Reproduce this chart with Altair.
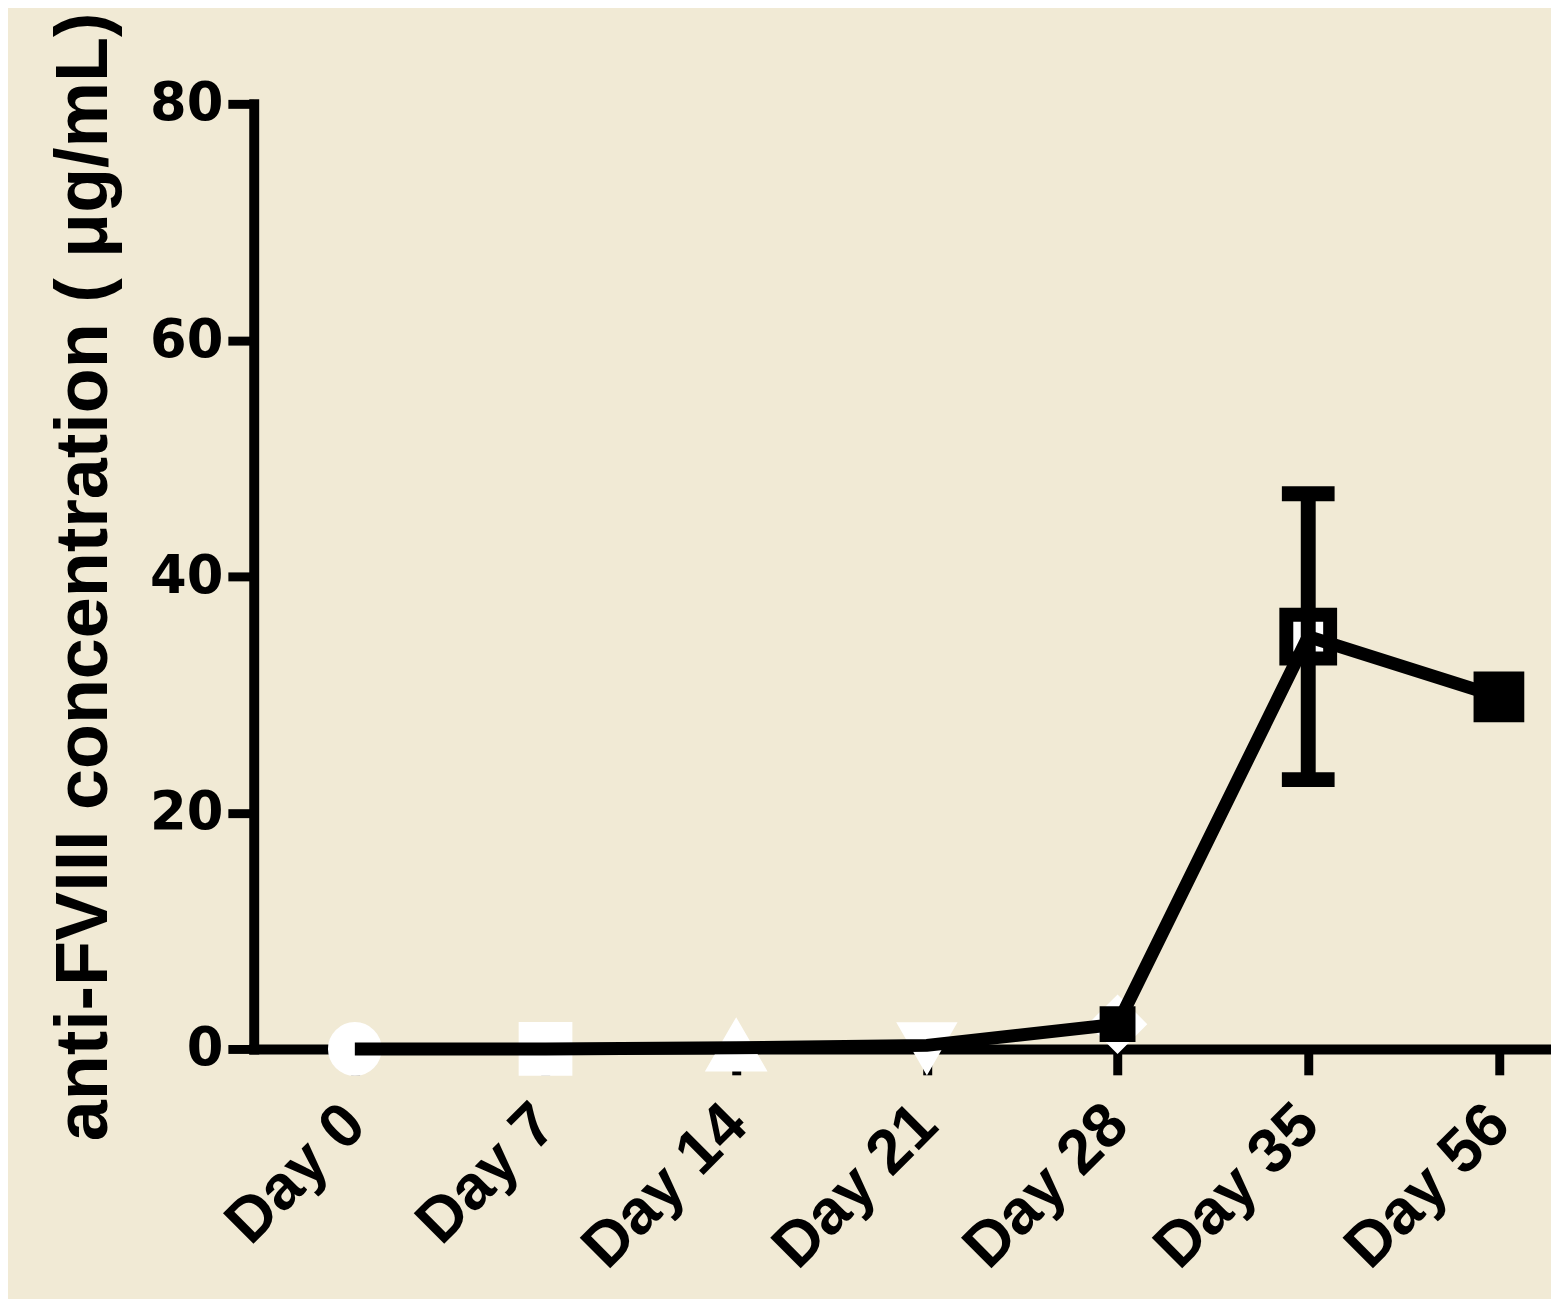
import altair as alt
import pandas as pd

# ---- data ----
days = ["Day 0", "Day 7", "Day 14", "Day 21", "Day 28", "Day 35", "Day 56"]
values = [0.0, 0.0, 0.1, 0.3, 2.1, 34.9, 29.8]

open_days = ["Day 0", "Day 7", "Day 14", "Day 21", "Day 28", "Day 35"]
open_values = [0.0, 0.0, 0.1, 0.3, 2.1, 34.9]
open_shapes = ["circle", "square", "triangle-up", "triangle-down", "diamond", "square"]
open_strokes = ["white", "white", "white", "white", "white", "black"]
open_sizes = [1600, 1600, 1500, 1400, 1600, 1940]

filled_days = ["Day 28", "Day 56"]
filled_values = [2.1, 29.8]
filled_sizes = [1300, 2600]

err_days = ["Day 35"]
err_low = [22.8]
err_high = [47.0]

y_ticks = [0, 20, 40, 60, 80]
y_title = "anti-FVIII concentration ( μg/mL)"

TITLE_FONT = "Liberation Sans"
Y_LABEL_FONT = "DejaVu Sans"
X_LABEL_FONT = "Liberation Sans"
BG = "#F1EAD5"

line_df = pd.DataFrame({"day": days, "value": values})
open_df = pd.DataFrame({"day": open_days, "value": open_values, "shape": open_shapes,
                        "stroke": open_strokes, "size": open_sizes})
filled_df = pd.DataFrame({"day": filled_days, "value": filled_values, "size": filled_sizes})
err_df = pd.DataFrame({"day": err_days, "lo": err_low, "hi": err_high})

x_scale = alt.Scale(type="point", domain=days, padding=0.4017, align=0.66)
y_scale = alt.Scale(domain=[0, 80], nice=False)

x_enc = alt.X("day:N", scale=x_scale, sort=days,
              axis=alt.Axis(title=None, labelAngle=-45, labelAlign="right",
                            labelBaseline="middle", labelPadding=40, labelLimit=0,
                            labelFont=X_LABEL_FONT, labelFontSize=63))
y_axis = alt.Axis(values=y_ticks, title=y_title, titleAngle=270, titleX=-148, titleY=475,
                  titleAlign="center", titleBaseline="alphabetic", labelPadding=5,
                  labelFont=Y_LABEL_FONT, labelFontSize=53)

base = alt.Chart(line_df)

open_pts = alt.Chart(open_df).mark_point(filled=True, strokeWidth=14, opacity=1).encode(
    x=x_enc,
    y=alt.Y("value:Q", scale=y_scale, axis=y_axis),
    shape=alt.Shape("shape:N", scale=None, legend=None),
    fill=alt.value("white"),
    stroke=alt.Stroke("stroke:N", scale=None, legend=None),
    size=alt.Size("size:Q", scale=None, legend=None),
)

filled_pts = alt.Chart(filled_df).mark_point(filled=True, shape="square", color="black",
                                             opacity=1).encode(
    x=alt.X("day:N", scale=x_scale, sort=days),
    y=alt.Y("value:Q", scale=y_scale),
    size=alt.Size("size:Q", scale=None, legend=None),
)

err_rule = alt.Chart(err_df).mark_rule(color="black", strokeWidth=15).encode(
    x=alt.X("day:N", scale=x_scale, sort=days),
    y=alt.Y("lo:Q", scale=y_scale),
    y2="hi:Q",
)
cap_lo = alt.Chart(err_df).mark_tick(color="black", thickness=15, size=53,
                                     orient="horizontal", opacity=1).encode(
    x=alt.X("day:N", scale=x_scale, sort=days),
    y=alt.Y("lo:Q", scale=y_scale),
)
cap_hi = alt.Chart(err_df).mark_tick(color="black", thickness=15, size=53,
                                     orient="horizontal", opacity=1).encode(
    x=alt.X("day:N", scale=x_scale, sort=days),
    y=alt.Y("hi:Q", scale=y_scale),
)

line = base.mark_line(color="black", strokeWidth=13).encode(
    x=alt.X("day:N", scale=x_scale, sort=days),
    y=alt.Y("value:Q", scale=y_scale),
)

chart = alt.layer(open_pts, err_rule, cap_lo, cap_hi, line, filled_pts).properties(
    width=1304,
    height=950,
    autosize=alt.AutoSizeParams(type="none"),
    padding={"left": 247, "top": 93, "right": 0, "bottom": 248},
    background=BG,
).configure_view(stroke=None).configure_axis(
    grid=False,
    domainColor="black",
    domainWidth=10,
    domainCap="square",
    tickColor="black",
    tickWidth=9,
    tickSize=26,
    labelFontWeight="bold",
    labelColor="black",
    titleFont=TITLE_FONT,
    titleFontWeight="bold",
    titleFontSize=74,
    titleColor="black",
)

chart.save("out.html", embed_options={"renderer": "svg", "actions": False})
